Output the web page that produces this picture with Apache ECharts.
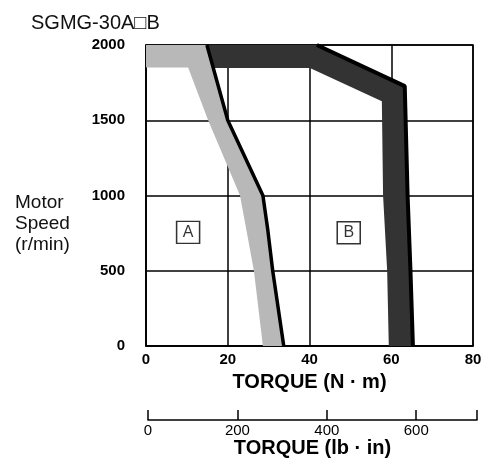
<!DOCTYPE html>
<html>
<head>
<meta charset="utf-8">
<script src="https://cdn.jsdelivr.net/npm/echarts@6/dist/echarts.min.js"></script>
<style>
  html, body { margin: 0; padding: 0; background: #fff; }
  #chart { width: 485px; height: 463px; }
</style>
</head>
<body>
<div id="chart"></div>
<script>
// torque (N·m) / speed (r/min) outlines
const bandA = [[0, 2000], [0, 1850], [10.3, 1850], [15.2, 1500], [23, 1000], [26.4, 500], [28.6, 0],
  [33.7, 0], [31, 500], [29.8, 770], [28.6, 1000], [20, 1500], [14.9, 2000]]
const bandB = [[15, 2000], [41.8, 2000], [63.3, 1727], [64, 1000], [64.7, 500], [65.3, 0],
  [59.4, 0], [59, 500], [58, 1000], [57.7, 1627], [40.1, 1847], [16.5, 1847]]
const edgeB = [[41.8, 2000], [63.3, 1727], [64, 1000], [64.7, 500], [65.3, 0]]
const limitA = [[14.9, 2000], [20, 1500], [28.6, 1000], [29.8, 770], [31, 500], [33.7, 0]]
const boxLabels = [[10.3, 755, 'A'], [49.6, 752, 'B']]
const nmTicks = [0, 20, 40, 60, 80]
const lbinTicks = [0, 200, 400, 600]
const lbinMax = 736

const FONT = 'Liberation Sans, Arial, sans-serif'

function polygonSeries(points, fill) {
  return {
    type: 'custom',
    xAxisIndex: 0,
    yAxisIndex: 0,
    z: 1,
    silent: true,
    data: points,
    renderItem: (params, api) => {
      if (params.dataIndex !== 0) return
      return {
        type: 'polygon',
        shape: { points: points.map(p => api.coord(p)) },
        style: { fill: fill }
      }
    }
  }
}

const chart = echarts.init(document.getElementById('chart'))
chart.setOption({
  animation: false,
  title: {
    text: 'SGMG-30A\u25A1B',
    left: 26,
    top: 8,
    textStyle: { fontFamily: FONT, fontSize: 20, fontWeight: 'normal', color: '#111' }
  },
  graphic: [{
    type: 'text',
    left: 15,
    top: 192,
    style: {
      text: 'Motor\nSpeed\n(r/min)',
      font: '19px ' + FONT,
      lineHeight: 21,
      fill: '#111'
    }
  }],
  grid: [
    { left: 146, right: 12, top: 45, bottom: 117, show: true, borderColor: '#000', borderWidth: 1.5 },
    { left: 148, right: 8, top: 419, height: 1 }
  ],
  xAxis: [
    {
      type: 'value', gridIndex: 0, min: 0, max: 80, interval: 20,
      name: 'TORQUE (N \u00B7 m)', nameLocation: 'middle', nameGap: 26,
      nameTextStyle: { fontFamily: FONT, fontSize: 20, fontWeight: 'bold', color: '#000' },
      axisLine: { show: true, lineStyle: { color: '#000', width: 1.5 } },
      axisTick: { show: false },
      axisLabel: { margin: 6, fontFamily: FONT, fontSize: 15, fontWeight: 'bold', color: '#000',
        customValues: nmTicks },
      splitLine: { show: true, lineStyle: { color: '#000', width: 1.5 } }
    },
    {
      type: 'value', gridIndex: 1, min: 0, max: lbinMax,
      name: 'TORQUE (lb \u00B7 in)', nameLocation: 'middle', nameGap: 18,
      nameTextStyle: { fontFamily: FONT, fontSize: 20, fontWeight: 'bold', color: '#000' },
      axisLine: { show: true, lineStyle: { color: '#000', width: 1.5 } },
      axisTick: { show: true, inside: true, length: 10, lineStyle: { color: '#000', width: 1.5 },
        customValues: lbinTicks.concat([lbinMax]) },
      axisLabel: { margin: 3, fontFamily: FONT, fontSize: 15, color: '#000', customValues: lbinTicks },
      splitLine: { show: false }
    }
  ],
  yAxis: [
    {
      type: 'value', gridIndex: 0, min: 0, max: 2000, interval: 500,
      axisLine: { show: true, lineStyle: { color: '#000', width: 1.5 } },
      axisTick: { show: false },
      axisLabel: { margin: 21, fontFamily: FONT, fontSize: 15, fontWeight: 'bold', color: '#000',
        formatter: v => String(v) },
      splitLine: { show: true, lineStyle: { color: '#000', width: 1.5 } }
    },
    { type: 'value', gridIndex: 1, show: false, min: 0, max: 1 }
  ],
  series: [
    polygonSeries(bandA, '#b8b8b8'),
    polygonSeries(bandB, '#333333'),
    {
      type: 'line', data: edgeB, showSymbol: false, z: 3, silent: true,
      lineStyle: { color: '#000', width: 4 }
    },
    {
      type: 'line', data: limitA, showSymbol: false, z: 3, silent: true,
      lineStyle: { color: '#000', width: 3.5 }
    },
    {
      type: 'scatter', z: 4, silent: true,
      data: boxLabels.map(b => ({ value: [b[0], b[1]], name: b[2] })),
      symbol: 'rect', symbolSize: [23, 22],
      itemStyle: { color: '#fff', borderColor: '#000', borderWidth: 1.5 },
      label: { show: true, position: 'inside', formatter: p => p.name,
        fontFamily: FONT, fontSize: 16, color: '#000' }
    }
  ]
})
</script>
</body>
</html>
